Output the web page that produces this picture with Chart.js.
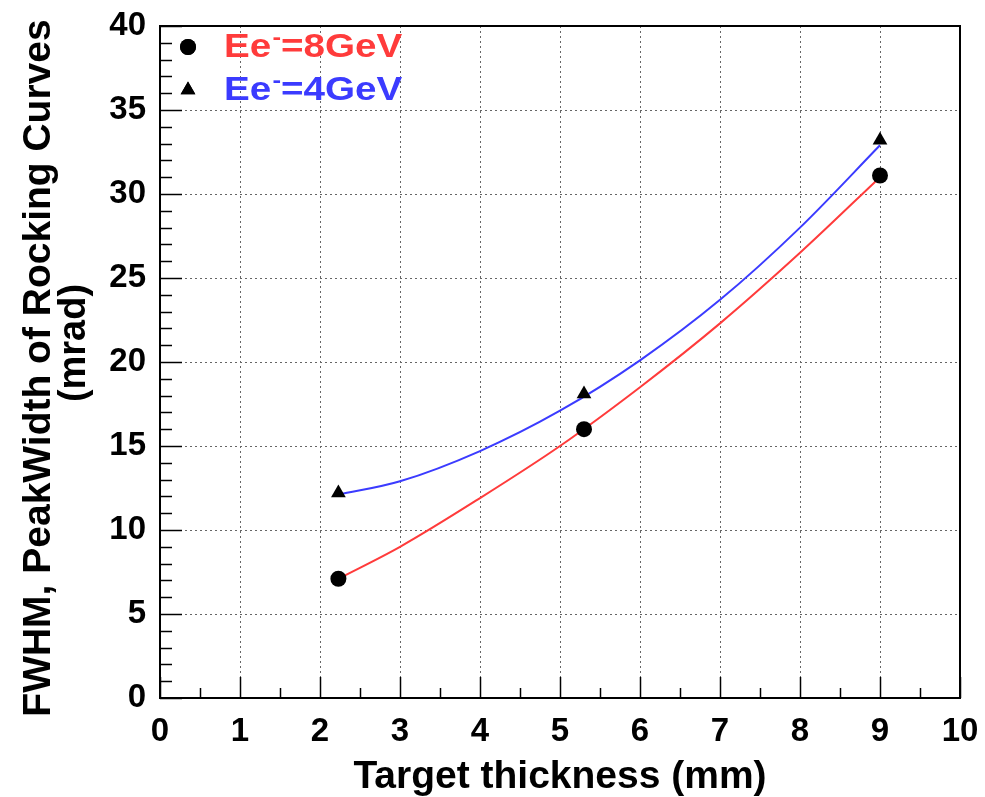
<!DOCTYPE html>
<html lang="en">
<head>
  <meta charset="UTF-8">
  <title>FWHM vs target thickness</title>
  <script src="https://cdn.jsdelivr.net/npm/chart.js"></script>
  <style>
    html, body { margin: 0; padding: 0; background: #fff; }
    canvas { display: block; }
  </style>
</head>
<body>
  <canvas id="fwhmChart" width="985" height="797"></canvas>

  <script>
    // measured points
    const thickness = [2.23, 5.3, 9.0];
    const fwhm8GeV = [7.1, 16.0, 31.1];
    const fwhm4GeV = [12.2, 18.1, 33.2];

    // fit curves
    const fitThickness = [2.23, 3, 4, 5, 6, 7, 8, 9];
    const fit8GeV = [7.1, 9.0, 11.9, 15.0, 18.5, 22.3, 26.5, 31.0];
    const fit4GeV = [12.1, 12.9, 14.7, 17.1, 20.1, 23.7, 28.0, 32.9];

    const legendEnergies = ['8GeV', '4GeV'];
    const xTitle = 'Target thickness (mm)';
    const yTitle = ['FWHM, PeakWidth of Rocking Curves', '(mrad)'];

    const FONT = '"Liberation Sans", Arial, sans-serif';
    const RED = '#ff3b3b';
    const BLUE = '#3b3bff';

    const pts = (xs, ys) => xs.map((x, i) => ({ x: x, y: ys[i] }));

    function line(ctx, x1, y1, x2, y2) {
      ctx.beginPath();
      ctx.moveTo(x1, y1);
      ctx.lineTo(x2, y2);
      ctx.stroke();
    }

    // ROOT style frame: dotted grid, inner ticks, box, titles, legend
    const rootFrame = {
      id: 'rootFrame',
      beforeDatasetsDraw(chart) {
        const { ctx, chartArea: a, scales: { x, y } } = chart;
        ctx.save();
        ctx.strokeStyle = '#666';
        ctx.lineWidth = 1;
        ctx.setLineDash([2, 3]);
        x.ticks.forEach(t => {
          if (t.value % 1 !== 0 || t.value <= x.min || t.value >= x.max) return;
          const px = Math.round(x.getPixelForValue(t.value)) + 0.5;
          line(ctx, px, a.top, px, a.bottom);
        });
        y.ticks.forEach(t => {
          if (t.value % 5 !== 0 || t.value <= y.min || t.value >= y.max) return;
          const py = Math.round(y.getPixelForValue(t.value)) + 0.5;
          line(ctx, a.left, py, a.right, py);
        });
        ctx.restore();
      },
      afterDatasetsDraw(chart) {
        const { ctx, chartArea: a, scales: { x, y } } = chart;
        ctx.save();
        ctx.strokeStyle = '#000';
        ctx.lineWidth = 1.5;
        x.ticks.forEach(t => {
          const px = Math.round(x.getPixelForValue(t.value)) + 0.5;
          const len = t.value % 1 === 0 ? 21 : 10;
          line(ctx, px, a.bottom, px, a.bottom - len);
        });
        y.ticks.forEach(t => {
          const py = Math.round(y.getPixelForValue(t.value)) + 0.5;
          const len = t.value % 5 === 0 ? 22 : 12;
          line(ctx, a.left, py, a.left + len, py);
        });
        ctx.lineWidth = 2;
        ctx.strokeRect(a.left, a.top, a.right - a.left, a.bottom - a.top);
        ctx.restore();
      },
      afterDraw(chart) {
        const { ctx, chartArea: a } = chart;
        ctx.save();
        ctx.fillStyle = '#000';
        // x title
        ctx.font = 'bold 39px ' + FONT;
        ctx.textAlign = 'center';
        ctx.textBaseline = 'alphabetic';
        ctx.fillText(xTitle, (a.left + a.right) / 2, 788);
        // y title, two lines
        ctx.save();
        ctx.translate(50, 368);
        ctx.rotate(-Math.PI / 2);
        ctx.fillText(yTitle[0], 0, 0);
        ctx.restore();
        ctx.save();
        ctx.font = 'bold 38px ' + FONT;
        ctx.translate(85, 343);
        ctx.rotate(-Math.PI / 2);
        ctx.fillText(yTitle[1], 0, 0);
        ctx.restore();

        // legend
        const rows = [
          { style: 'circle', color: RED, label: legendEnergies[0], y: 47 },
          { style: 'triangle', color: BLUE, label: legendEnergies[1], y: 90 }
        ];
        rows.forEach(r => {
          ctx.fillStyle = '#000';
          Chart.helpers.drawPoint(ctx, {
            pointStyle: r.style, radius: r.style === 'circle' ? 8 : 8.5, borderWidth: 0
          }, 188, r.y);
          ctx.fill();
          ctx.fillStyle = r.color;
          ctx.textAlign = 'left';
          ctx.textBaseline = 'middle';
          ctx.save();
          ctx.translate(224, r.y + 1);
          ctx.scale(1.17, 1);
          ctx.font = 'bold 33px ' + FONT;
          let cx = 0;
          ctx.fillText('Ee', cx, 0);
          cx += ctx.measureText('Ee').width + 1;
          ctx.font = 'bold 22px ' + FONT;
          ctx.fillText('-', cx, -10);
          cx += ctx.measureText('-').width;
          ctx.font = 'bold 33px ' + FONT;
          ctx.fillText('=' + r.label, cx, 0);
          ctx.restore();
        });
        ctx.restore();
      }
    };

    const ctx = document.getElementById('fwhmChart').getContext('2d');
    new Chart(ctx, {
      type: 'scatter',
      data: {
        datasets: [
          {
            label: 'fit 8GeV',
            data: pts(fitThickness, fit8GeV),
            showLine: true,
            borderColor: RED,
            borderWidth: 2,
            pointRadius: 0,
            cubicInterpolationMode: 'monotone',
            order: 3
          },
          {
            label: 'fit 4GeV',
            data: pts(fitThickness, fit4GeV),
            showLine: true,
            borderColor: BLUE,
            borderWidth: 2,
            pointRadius: 0,
            cubicInterpolationMode: 'monotone',
            order: 3
          },
          {
            label: 'Ee-=8GeV',
            data: pts(thickness, fwhm8GeV),
            pointStyle: 'circle',
            pointRadius: 8,
            backgroundColor: '#000',
            borderColor: '#000',
            borderWidth: 0,
            order: 1
          },
          {
            label: 'Ee-=4GeV',
            data: pts(thickness, fwhm4GeV),
            pointStyle: 'triangle',
            pointRadius: 8.5,
            backgroundColor: '#000',
            borderColor: '#000',
            borderWidth: 0,
            order: 1
          }
        ]
      },
      options: {
        responsive: false,
        animation: false,
        layout: { padding: { top: 26, right: 25, left: 0, bottom: 0 } },
        plugins: {
          legend: { display: false },
          tooltip: { enabled: false }
        },
        scales: {
          x: {
            type: 'linear',
            min: 0,
            max: 10,
            afterFit: s => {
              s.height = 99;
              s.paddingLeft = 0;
              s.paddingRight = 0;
            },
            grid: { display: false, drawTicks: false },
            border: { display: false },
            ticks: {
              stepSize: 0.5,
              autoSkip: false,
              maxRotation: 0,
              padding: 14,
              color: '#000',
              font: { family: FONT, size: 33, weight: 'bold' },
              callback: v => (v % 1 === 0 ? String(v) : '')
            }
          },
          y: {
            min: 0,
            max: 40,
            afterFit: s => {
              s.width = 160;
              s.paddingTop = 0;
              s.paddingBottom = 0;
            },
            grid: { display: false, drawTicks: false },
            border: { display: false },
            ticks: {
              stepSize: 1,
              autoSkip: false,
              padding: 14,
              color: '#000',
              font: { family: FONT, size: 33, weight: 'bold' },
              callback: v => (v % 5 === 0 ? String(v) : '')
            }
          }
        }
      },
      plugins: [rootFrame]
    });
  </script>
</body>
</html>
